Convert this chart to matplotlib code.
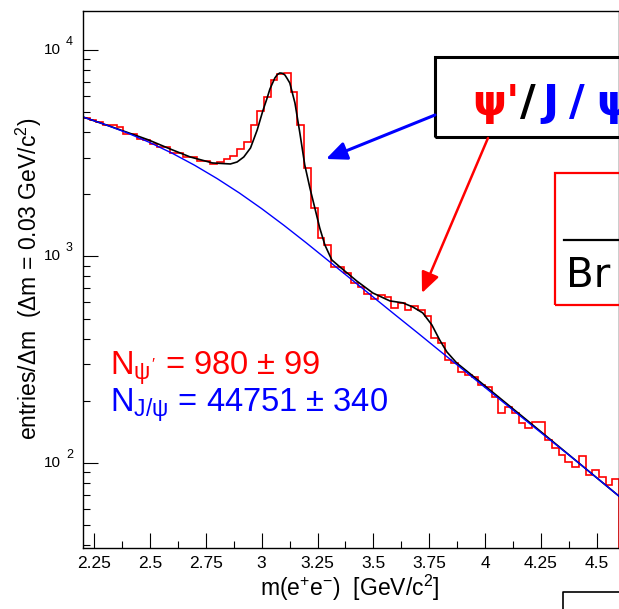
import matplotlib
matplotlib.use('Agg')
import matplotlib.pyplot as plt
import matplotlib.ticker as mticker
from matplotlib.patches import Rectangle, FancyArrowPatch
from matplotlib.lines import Line2D
import numpy as np

plt.rcParams['font.family'] = ['Liberation Sans', 'DejaVu Sans']
plt.rcParams['mathtext.fontset'] = 'custom'
plt.rcParams['mathtext.rm'] = 'Liberation Sans'
plt.rcParams['mathtext.it'] = 'Liberation Sans'
plt.rcParams['mathtext.bf'] = 'Liberation Sans:bold'

# m(e+e-) histogram, 80 bins of 0.03 GeV between 2.2 and 4.6
m_lo, m_hi, n_bins = 2.2, 4.6, 80
counts = [4700, 4580, 4480, 4330, 4330, 4240, 3920, 3920, 3710, 3670,
          3510, 3390, 3390, 3170, 3170, 3030, 3030, 2900, 2900, 2800,
          2870, 2970, 3070, 3320, 3590, 4330, 5070, 5920, 7150, 7650,
          7740, 6260, 4330, 2680, 1720, 1230, 1140, 890, 890, 830,
          745, 712, 658, 623, 651, 637, 563, 596, 551, 576,
          551, 515, 403, 381, 315, 305, 275, 267, 261, 239,
          233, 209, 175, 187, 175, 156, 148, 158, 158, 129,
          118, 109, 101, 95, 108, 87.5, 92.5, 85.5, 78, 84]

# total fit (black)
fit_m = [2.20, 2.33, 2.49, 2.59, 2.68, 2.78, 2.86, 2.89, 2.92, 2.95,
         2.98, 3.005, 3.023, 3.037, 3.059, 3.07, 3.081, 3.092, 3.104, 3.115,
         3.126, 3.149, 3.171, 3.193, 3.216, 3.238, 3.26, 3.283, 3.314, 3.35,
         3.426, 3.498, 3.574, 3.632, 3.677, 3.721, 3.762, 3.797, 3.829, 3.873,
         3.932, 4.20, 4.60]
fit_total = [4738, 4238, 3680, 3316, 3033, 2837, 2805, 2868, 3033, 3353,
             4099, 5066, 5789, 6474, 7317, 7600, 7739, 7720, 7568, 7250,
             6921, 5538, 3963, 2774, 2146, 1718, 1374, 1137, 962, 890,
             760, 665, 609, 596, 569, 533, 466, 394, 345, 305,
             271, 157, 69]

# background part of the fit (blue)
bkg_m = [2.2, 2.3, 2.4, 2.5, 2.6, 2.7, 2.8, 2.9, 3.0, 3.1, 3.2, 3.3,
         3.4, 3.5, 3.6, 3.7, 3.8, 3.9, 4.0, 4.2, 4.4, 4.6]
bkg = [4738, 4351, 3959, 3560, 3159, 2764, 2385, 2030, 1704, 1414, 1163, 951,
       777, 635, 519, 425, 347, 284, 232, 155, 104, 69]

xticks = [2.25, 2.5, 2.75, 3, 3.25, 3.5, 3.75, 4, 4.25, 4.5]
decades = [2, 3, 4]


def fx(px):
    return px / 619.0


def fy(py):
    return (609.0 - py) / 609.0


fig = plt.figure(figsize=(6.19, 6.09), dpi=100)
ax = fig.add_axes([fx(83), fy(548), 536 / 619.0, 537 / 609.0])

edges = np.linspace(m_lo, m_hi, n_bins + 1)
ax.stairs(counts, edges, baseline=1, color='red', lw=1.2)
ax.plot(fit_m, fit_total, color='black', lw=1.2)
ax.plot(bkg_m, bkg, color='blue', lw=1.0)

ax.set_yscale('log')
ax.set_xlim(m_lo, m_hi)
ax.set_ylim(38.7, 15450)

ax.set_xticks(xticks)
ax.xaxis.set_major_formatter(mticker.FuncFormatter(lambda v, p: '%g' % v))
ax.xaxis.set_minor_locator(mticker.MultipleLocator(0.125))
ax.yaxis.set_major_locator(mticker.LogLocator(base=10))
ax.yaxis.set_minor_locator(mticker.LogLocator(base=10, subs=np.arange(2, 10)))
ax.yaxis.set_major_formatter(mticker.NullFormatter())
ax.yaxis.set_minor_formatter(mticker.NullFormatter())
ax.tick_params(which='major', direction='in', length=10.5, width=0.8,
               labelsize=12.5, pad=6)
ax.tick_params(which='minor', direction='in', length=5.2, width=0.8)
for s in ax.spines.values():
    s.set_linewidth(1.0)

# ROOT style "10 ^n" labels with a detached exponent
for d in decades:
    ax.annotate('10', xy=(0, 10 ** d), xycoords=('axes fraction', 'data'),
                xytext=(-22, 0), textcoords='offset pixels',
                ha='right', va='center', fontsize=11)
    ax.annotate('%d' % d, xy=(0, 10 ** d), xycoords=('axes fraction', 'data'),
                xytext=(-17, 8), textcoords='offset pixels',
                ha='left', va='center', fontsize=9)

fig.text(fx(350), fy(588), r'm(e$^{+}$e$^{-}$)  [GeV/c$^{2}$]',
         ha='center', va='center', fontsize=16.5)
fig.text(fx(29), fy(279), r'entries/$\Delta$m  ($\Delta$m = 0.03 GeV/c$^{2}$)',
         ha='center', va='center', rotation=90, fontsize=16.5)

# yields
fig.text(fx(110), fy(375), r"N$_{\psi'}$ = 980 $\pm$ 99", color='red',
         fontsize=23.5, va='baseline')
fig.text(fx(110), fy(412), r"N$_{J/\psi}$ = 44751 $\pm$ 340", color='blue',
         fontsize=23.5, va='baseline')

# title box (cut at the right)
fig.add_artist(Rectangle((fx(435), fy(137)), fx(250), 80 / 609.0,
                         transform=fig.transFigure, fill=False,
                         edgecolor='black', lw=2.2))
title_parts = [("ψ'", 'red', 472), ("/", 'black', 520), ("J", 'blue', 542),
               ("/", 'blue', 569), ("ψ", 'blue', 596)]
for txt, col, xp in title_parts:
    fig.text(fx(xp), fy(115), txt, color=col, fontsize=31,
             fontweight='bold', family='DejaVu Sans', va='baseline')

# ratio box (cut at the right)
fig.add_artist(Rectangle((fx(555), fy(305)), fx(100), 132 / 609.0,
                         transform=fig.transFigure, fill=False,
                         edgecolor='red', lw=1.6))
fig.add_artist(Line2D([fx(564), fx(640)], [fy(240), fy(240)],
                      transform=fig.transFigure, color='black', lw=1.6))
fig.text(fx(566), fy(287), "Br", color='black', fontsize=29,
         family='DejaVu Sans', va='baseline')

# box corner at the bottom right
fig.add_artist(Line2D([fx(563), fx(563), fx(640)], [fy(620), fy(592), fy(592)],
                      transform=fig.transFigure, color='black', lw=1.2))

# arrows
fig.add_artist(FancyArrowPatch(
    (fx(435), fy(115)), (fx(326), fy(159)), transform=fig.transFigure,
    arrowstyle='-|>,head_length=1.25,head_width=0.55', mutation_scale=10,
    color='blue', lw=2.2, shrinkA=0, shrinkB=0))
fig.add_artist(FancyArrowPatch(
    (fx(488), fy(138)), (fx(422), fy(293)), transform=fig.transFigure,
    arrowstyle='-|>,head_length=1.25,head_width=0.55', mutation_scale=10,
    color='red', lw=1.8, shrinkA=0, shrinkB=0))

fig.savefig('out.png', dpi=100)
